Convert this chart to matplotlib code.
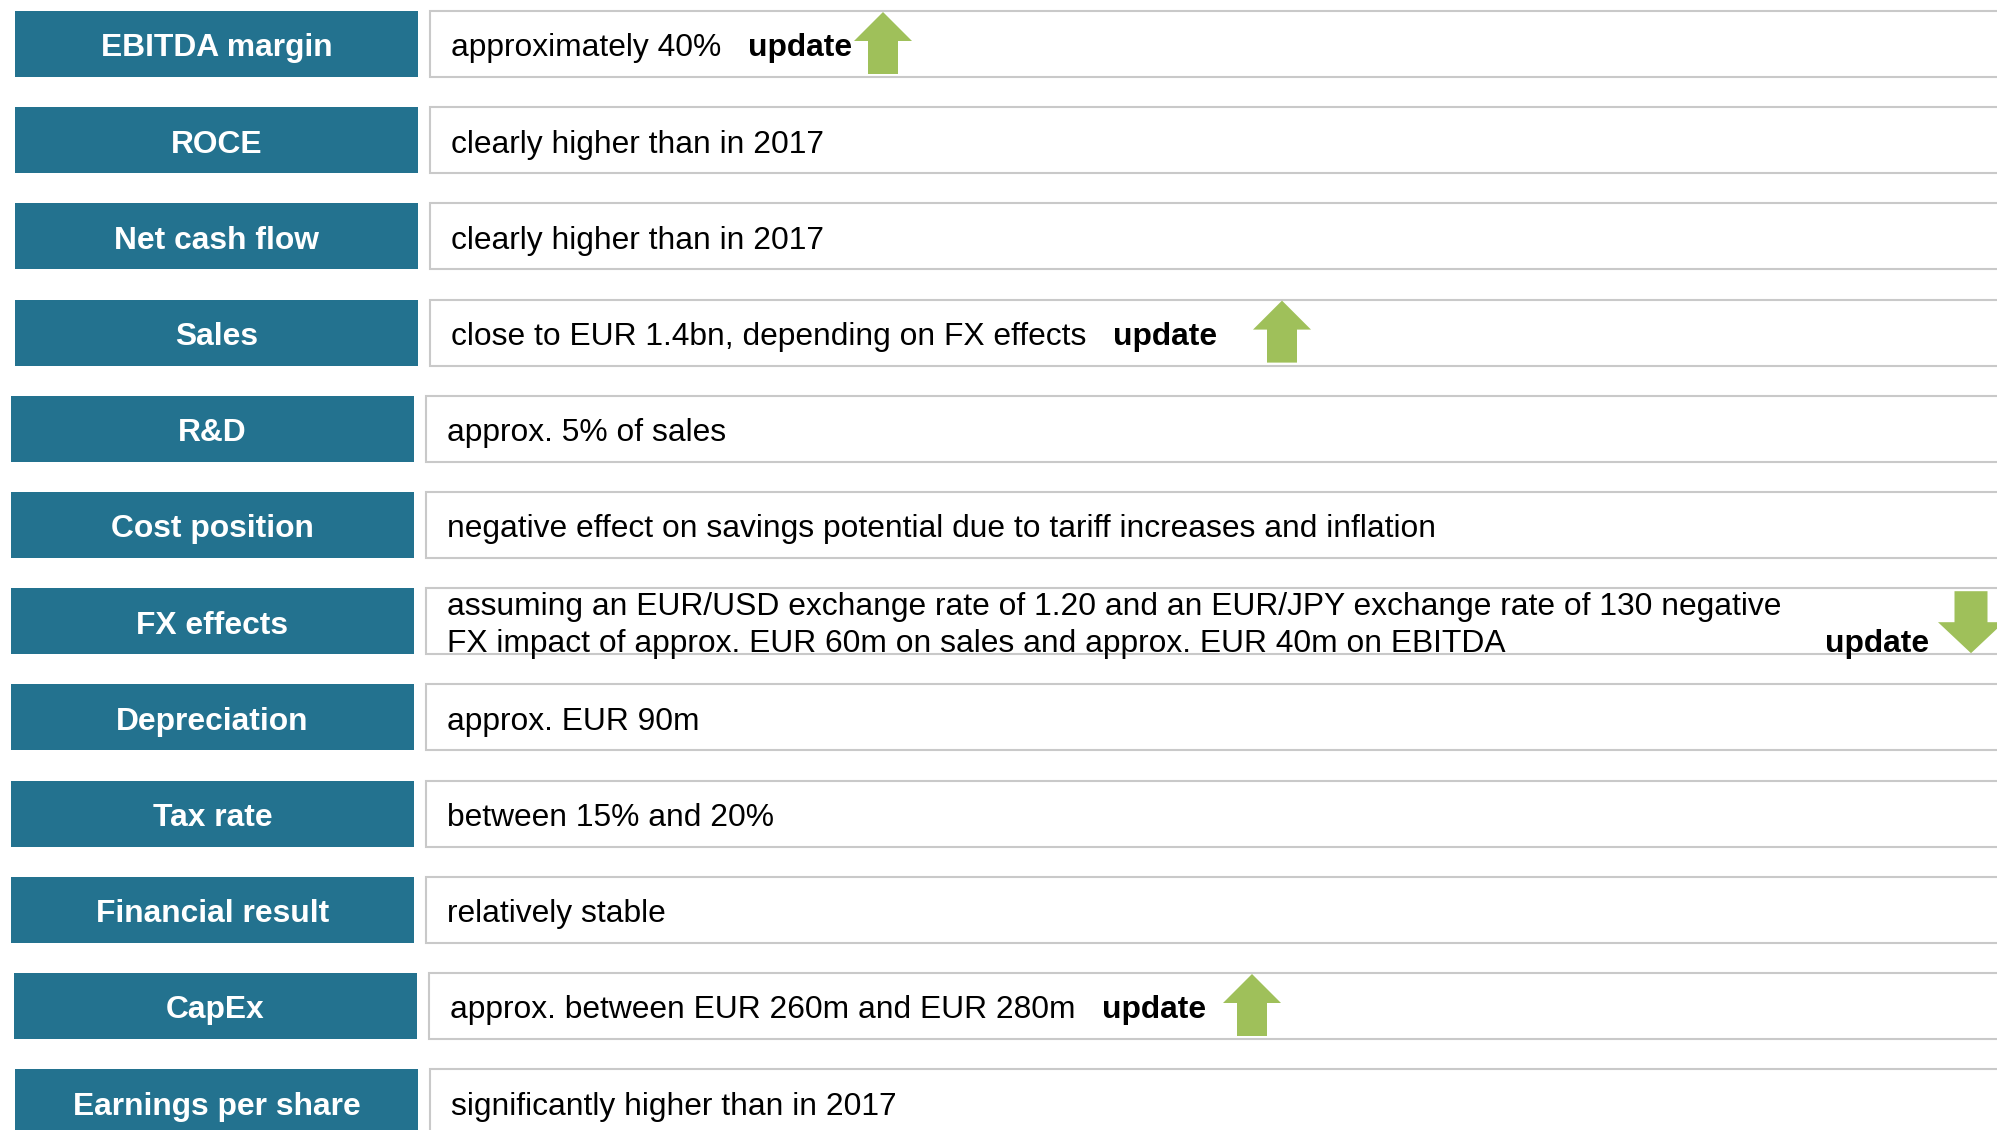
import matplotlib
matplotlib.use("Agg")
import matplotlib.pyplot as plt
from matplotlib.patches import Rectangle, Polygon

# ---------------- data ----------------
labels = ["EBITDA margin", "ROCE", "Net cash flow", "Sales", "R&D", "Cost position",
          "FX effects", "Depreciation", "Tax rate", "Financial result", "CapEx",
          "Earnings per share"]
notes = [
    "approximately 40%",
    "clearly higher than in 2017",
    "clearly higher than in 2017",
    "close to EUR 1.4bn, depending on FX effects",
    "approx. 5% of sales",
    "negative effect on savings potential due to tariff increases and inflation",
    "assuming an EUR/USD exchange rate of 1.20 and an EUR/JPY exchange rate of 130 negative\nFX impact of approx. EUR 60m on sales and approx. EUR 40m on EBITDA",
    "approx. EUR 90m",
    "between 15% and 20%",
    "relatively stable",
    "approx. between EUR 260m and EUR 280m",
    "significantly higher than in 2017",
]
update_dir = ["up", None, None, "up", None, None, "down", None, None, None, "up", None]
update_word = "update"

# ---------------- layout / style ----------------
W, H = 1997, 1130
LABEL_COLOR = "#23728f"
ARROW_COLOR = "#9fc05a"
EDGE_COLOR = "#c9c9c9"
FONT = ["Liberation Sans", "DejaVu Sans"]
FS = 22.9
row_top0, row_pitch, row_h = 11, 96.2, 66
x_shift = [0, 0, 0, 0, -4, -4, -4, -4, -4, -4, -1, 0]
label_l, label_r, content_l, text_pad = 15, 418, 430, 21
arrow_cx = {0: 883, 3: 1282, 6: 1971, 10: 1252}
fx_update_x = 1825
update_gap = 27

fig = plt.figure(figsize=(W / 100, H / 100), dpi=100)
ax = fig.add_axes([0, 0, 1, 1])
ax.set_xlim(0, W)
ax.set_ylim(H, 0)
ax.axis("off")

em = FS / 72 * 100
cap_off = 0.716 * em / 2 + 1


def up_arrow(cx, top, bottom, hw=58, sw=30, hl=29):
    return [(cx, top), (cx + hw / 2, top + hl), (cx + sw / 2, top + hl),
            (cx + sw / 2, bottom), (cx - sw / 2, bottom), (cx - sw / 2, top + hl),
            (cx - hw / 2, top + hl)]


def down_arrow(cx, top, bottom, hw=66, sw=33, hl=31):
    return [(cx, bottom), (cx + hw / 2, bottom - hl), (cx + sw / 2, bottom - hl),
            (cx + sw / 2, top), (cx - sw / 2, top), (cx - sw / 2, bottom - hl),
            (cx - hw / 2, bottom - hl)]


pending = []
for i, (lab, note) in enumerate(zip(labels, notes)):
    top = row_top0 + i * row_pitch
    cy = top + row_h / 2
    dx = x_shift[i]
    ax.add_patch(Rectangle((label_l + dx, top), label_r - label_l, row_h,
                           facecolor=LABEL_COLOR, edgecolor="none"))
    ax.add_patch(Rectangle((content_l + dx, top), W + 50 - content_l, row_h,
                           facecolor="white", edgecolor=EDGE_COLOR, linewidth=1.5))
    ax.text((label_l + label_r) / 2 + dx, cy + cap_off, lab, color="white",
            fontsize=FS, fontweight="bold", family=FONT, ha="center", va="baseline")
    lines = note.split("\n")
    if len(lines) == 1:
        t = ax.text(content_l + dx + text_pad, cy + cap_off, note, color="black",
                    fontsize=FS, family=FONT, ha="left", va="baseline")
    else:
        ls = 37
        n = len(lines)
        for k, ln in enumerate(lines):
            yb = cy + cap_off + (k - (n - 1) / 2) * ls
            t = ax.text(content_l + dx + text_pad, yb, ln, color="black",
                        fontsize=FS, family=FONT, ha="left", va="baseline")
    if update_dir[i] is not None:
        pending.append((i, t, cy, top))

fig.canvas.draw()
r = fig.canvas.get_renderer()
for i, t, cy, top in pending:
    if update_dir[i] == "up":
        bb = t.get_window_extent(renderer=r)
        ux = bb.x1 + update_gap
        ax.text(ux, cy + cap_off, update_word, color="black", fontsize=FS,
                fontweight="bold", family=FONT, ha="left", va="baseline")
        ax.add_patch(Polygon(up_arrow(arrow_cx[i], top + 1, top + 63),
                             closed=True, facecolor=ARROW_COLOR, edgecolor="none"))
    else:
        yb = t.get_position()[1]
        ax.text(fx_update_x, yb, update_word, color="black", fontsize=FS,
                fontweight="bold", family=FONT, ha="left", va="baseline")
        ax.add_patch(Polygon(down_arrow(arrow_cx[i], top + 3, top + 65),
                             closed=True, facecolor=ARROW_COLOR, edgecolor="none"))

fig.savefig("out.png", dpi=100)
